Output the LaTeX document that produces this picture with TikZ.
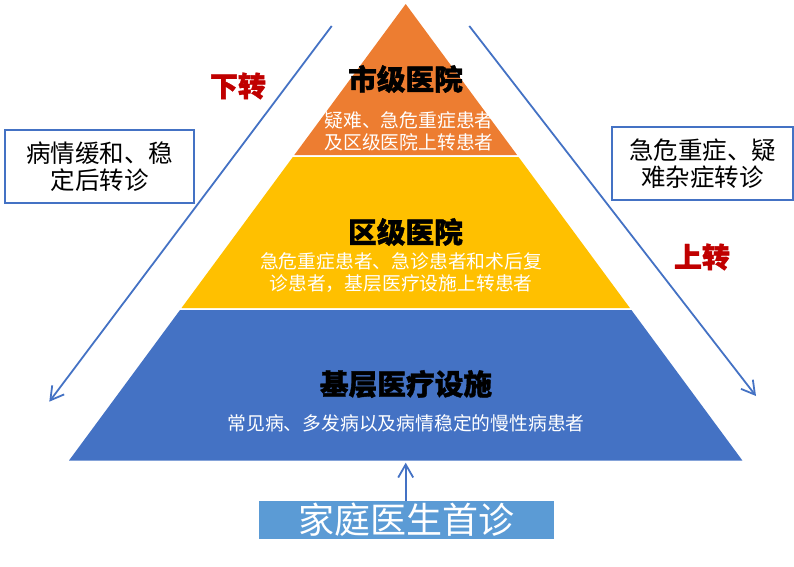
\documentclass[tikz,border=0pt]{standalone}
\usepackage{fontspec}
\setmainfont{Noto Sans CJK SC}[BoldFeatures={FakeBold=1.2}]
\usetikzlibrary{arrows.meta}
\definecolor{corange}{HTML}{ED7D31}
\definecolor{cyellow}{HTML}{FFC000}
\definecolor{cblue}{HTML}{4472C4}
\definecolor{clight}{HTML}{5B9BD5}
\definecolor{cred}{HTML}{C00000}
\tikzset{
  title/.style={font=\bfseries\fontsize{28.7}{32}\selectfont, text=black, inner sep=0pt},
  subtext/.style={font=\fontsize{18.8}{22.5}\selectfont, text=white, align=center, inner sep=0pt},
  sidebox/.style={draw=cblue, line width=2pt, fill=white, inner sep=0pt},
  sidetext/.style={font=\fontsize{24.5}{27.5}\selectfont, text=black, align=center, inner sep=0pt},
  redlabel/.style={font=\bfseries\fontsize{28}{30}\selectfont, text=cred, inner sep=0pt},
  flow/.style={draw=cblue, line width=1.8pt, -{Straight Barb[length=13pt,width=15pt,line width=1.8pt]}},
}
\begin{document}
\begin{tikzpicture}[x=1pt,y=-1pt]
\useasboundingbox (0,0) rectangle (794,566);
% pyramid layers
\fill[corange] (405.7,4) -- (517.1,155) -- (294.3,155) -- cycle;
\fill[cyellow] (292.85,157) -- (518.55,157) -- (629.9,308) -- (181.5,308) -- cycle;
\fill[cblue] (180.0,310) -- (631.4,310) -- (742.4,460.5) -- (69.0,460.5) -- cycle;
% texts in layers
\node[title] (t1) at (405.5,79) {市级医院};
\node[subtext] (s1) at (409,131.5) {疑难、急危重症患者\\及区级医院上转患者};
\node[title] (t2) at (405.5,232) {区级医院};
\node[subtext] (s2) at (401,272.5) {急危重症患者、急诊患者和术后复\\诊患者，基层医疗设施上转患者};
\node[title] (t3) at (406,384) {基层医疗设施};
\node[subtext] (s3) at (406,423.5) {常见病、多发病以及病情稳定的慢性病患者};
% side boxes
\node[sidebox, minimum width=189pt, minimum height=73pt] (lb) at (99.5,166.5) {};
\node[sidetext] (lbt) at (lb.center) {病情缓和、稳\\定后转诊};
\node[sidebox, minimum width=181pt, minimum height=73pt] (rb) at (702.5,163.5) {};
\node[sidetext] (rbt) at (rb.center) {急危重症、疑\\难杂症转诊};
% red labels
\node[redlabel] (down) at (238,86) {下转};
\node[redlabel] (up) at (702,257) {上转};
% transfer arrows
\coordinate (la) at (331.7,26);
\coordinate (lz) at (49.3,401.7);
\coordinate (ra) at (469.3,26);
\coordinate (rz) at (756,396);
\draw[flow] (la) -- (lz);
\draw[flow] (ra) -- (rz);
% family doctor box
\node[fill=clight, minimum width=295pt, minimum height=38pt, inner sep=0pt] (fd) at (406.5,520) {};
\node[font=\fontsize{36}{38}\selectfont, text=white, inner sep=0pt] (fdt) at (fd.center) {家庭医生首诊};
\coordinate (base) at (405.7,462.7);
\draw[flow] (fd.north -| base) -- (base);
\end{tikzpicture}
\end{document}
